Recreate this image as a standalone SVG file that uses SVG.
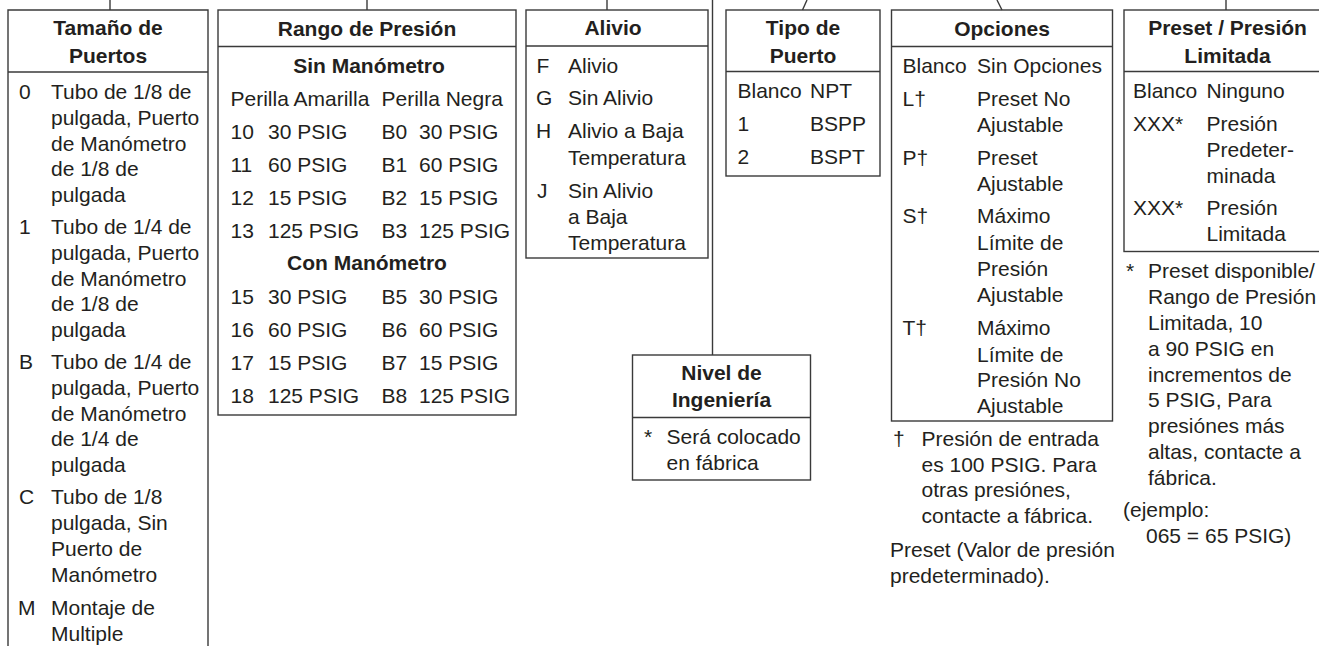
<svg xmlns="http://www.w3.org/2000/svg" width="1319" height="646" viewBox="0 0 1319 646">
<style>
text{font-family:"Liberation Sans",Arial,Helvetica,sans-serif;font-size:21px;fill:#231f20}
.h{font-weight:bold;text-anchor:middle}
.b{font-weight:bold}
.box{fill:none;stroke:#3a3a3a;stroke-width:1.4}
.ln{fill:none;stroke:#3a3a3a;stroke-width:1.4}
</style>
<rect width="1319" height="646" fill="#fff"/>
<g id="connectors">
<line class="ln" x1="110" y1="0" x2="110" y2="10"/>
<line class="ln" x1="367" y1="0" x2="367" y2="10"/>
<line class="ln" x1="607" y1="0" x2="607" y2="10"/>
<line class="ln" x1="712.5" y1="0" x2="712.5" y2="355"/>
<line class="ln" x1="807" y1="0" x2="802.5" y2="10"/>
<line class="ln" x1="997" y1="0" x2="1002" y2="10"/>
<line class="ln" x1="1226" y1="0" x2="1226" y2="10"/>
</g>
<g id="tamano">
<path class="box" d="M8,650 V10 H208 V650"/>
<line class="ln" x1="8" y1="72" x2="208" y2="72"/>
<text class="h" x="108" y="35">Tamaño de</text>
<text class="h" x="108" y="63">Puertos</text>
<text x="19" y="99">0</text>
<text x="51" y="99">Tubo de 1/8 de</text>
<text x="51" y="125">pulgada, Puerto</text>
<text x="51" y="151">de Manómetro</text>
<text x="51" y="176">de 1/8 de</text>
<text x="51" y="202">pulgada</text>
<text x="19" y="234">1</text>
<text x="51" y="234">Tubo de 1/4 de</text>
<text x="51" y="260">pulgada, Puerto</text>
<text x="51" y="286">de Manómetro</text>
<text x="51" y="311">de 1/8 de</text>
<text x="51" y="337">pulgada</text>
<text x="19" y="369">B</text>
<text x="51" y="369">Tubo de 1/4 de</text>
<text x="51" y="395">pulgada, Puerto</text>
<text x="51" y="421">de Manómetro</text>
<text x="51" y="446">de 1/4 de</text>
<text x="51" y="472">pulgada</text>
<text x="19" y="504">C</text>
<text x="51" y="504">Tubo de 1/8</text>
<text x="51" y="530">pulgada, Sin</text>
<text x="51" y="556">Puerto de</text>
<text x="51" y="582">Manómetro</text>
<text x="18" y="615">M</text>
<text x="51" y="615">Montaje de</text>
<text x="51" y="641">Multiple</text>
</g>
<g id="rango">
<rect class="box" x="218" y="10" width="298" height="405"/>
<line class="ln" x1="218" y1="46.5" x2="516" y2="46.5"/>
<text class="h" x="367" y="36">Rango de Presión</text>
<text class="h" x="369" y="73">Sin Manómetro</text>
<text x="230.5" y="106">Perilla Amarilla</text>
<text x="381.5" y="106">Perilla Negra</text>
<text x="230.5" y="139">10</text><text x="268" y="139">30 PSIG</text><text x="381.5" y="139">B0</text><text x="419" y="139">30 PSIG</text>
<text x="230.5" y="172">11</text><text x="268" y="172">60 PSIG</text><text x="381.5" y="172">B1</text><text x="419" y="172">60 PSIG</text>
<text x="230.5" y="205">12</text><text x="268" y="205">15 PSIG</text><text x="381.5" y="205">B2</text><text x="419" y="205">15 PSIG</text>
<text x="230.5" y="238">13</text><text x="268" y="238">125 PSIG</text><text x="381.5" y="238">B3</text><text x="419" y="238">125 PSIG</text>
<text class="h" x="367" y="270">Con Manómetro</text>
<text x="230.5" y="304">15</text><text x="268" y="304">30 PSIG</text><text x="381.5" y="304">B5</text><text x="419" y="304">30 PSIG</text>
<text x="230.5" y="337">16</text><text x="268" y="337">60 PSIG</text><text x="381.5" y="337">B6</text><text x="419" y="337">60 PSIG</text>
<text x="230.5" y="370">17</text><text x="268" y="370">15 PSIG</text><text x="381.5" y="370">B7</text><text x="419" y="370">15 PSIG</text>
<text x="230.5" y="403">18</text><text x="268" y="403">125 PSIG</text><text x="381.5" y="403">B8</text><text x="419" y="403">125 PSIG</text>
</g>
<g id="alivio">
<rect class="box" x="526" y="10" width="182" height="248"/>
<line class="ln" x1="526" y1="46" x2="708" y2="46"/>
<text class="h" x="613" y="35">Alivio</text>
<text x="536.5" y="73">F</text><text x="568" y="73">Alivio</text>
<text x="536" y="105">G</text><text x="568" y="105">Sin Alivio</text>
<text x="536" y="138">H</text><text x="568" y="138">Alivio a Baja</text>
<text x="568" y="165">Temperatura</text>
<text x="537" y="198">J</text><text x="568" y="198">Sin Alivio</text>
<text x="568" y="224">a Baja</text>
<text x="568" y="250">Temperatura</text>
</g>
<g id="tipo">
<rect class="box" x="726" y="10" width="154" height="166"/>
<line class="ln" x1="726" y1="71.5" x2="880" y2="71.5"/>
<text class="h" x="803" y="35">Tipo de</text>
<text class="h" x="803" y="63">Puerto</text>
<text x="737.5" y="98">Blanco</text><text x="810" y="98">NPT</text>
<text x="737.5" y="131">1</text><text x="810" y="131">BSPP</text>
<text x="737.5" y="164">2</text><text x="810" y="164">BSPT</text>
</g>
<g id="nivel">
<rect class="box" x="632.5" y="355" width="178" height="125"/>
<line class="ln" x1="632.5" y1="417.5" x2="810.5" y2="417.5"/>
<text class="h" x="721.5" y="380">Nivel de</text>
<text class="h" x="721.5" y="407">Ingeniería</text>
<text x="644" y="444">*</text><text x="666.5" y="444">Será colocado</text>
<text x="666.5" y="470">en fábrica</text>
</g>
<g id="opciones">
<rect class="box" x="891.5" y="10" width="221" height="411"/>
<line class="ln" x1="891.5" y1="46.5" x2="1112.5" y2="46.5"/>
<text class="h" x="1002" y="36">Opciones</text>
<text x="902.5" y="73">Blanco</text><text x="977" y="73">Sin Opciones</text>
<text x="902.5" y="106">L†</text><text x="977" y="106">Preset No</text>
<text x="977" y="132">Ajustable</text>
<text x="902.5" y="165">P†</text><text x="977" y="165">Preset</text>
<text x="977" y="191">Ajustable</text>
<text x="902.5" y="223">S†</text><text x="977" y="223">Máximo</text>
<text x="977" y="250">Límite de</text>
<text x="977" y="276">Presión</text>
<text x="977" y="302">Ajustable</text>
<text x="902.5" y="335">T†</text><text x="977" y="335">Máximo</text>
<text x="977" y="362">Límite de</text>
<text x="977" y="387">Presión No</text>
<text x="977" y="413">Ajustable</text>
<text x="893" y="446">†</text><text x="921.5" y="446">Presión de entrada</text>
<text x="921.5" y="472">es 100 PSIG. Para</text>
<text x="921.5" y="497">otras presiónes,</text>
<text x="921.5" y="523">contacte a fábrica.</text>
<text x="890" y="557">Preset (Valor de presión</text>
<text x="890" y="583">predeterminado).</text>
</g>
<g id="preset">
<rect class="box" x="1124" y="10" width="200" height="241.5"/>
<line class="ln" x1="1124" y1="71.5" x2="1324" y2="71.5"/>
<text class="h" x="1227.5" y="35">Preset / Presión</text>
<text class="h" x="1227.5" y="63">Limitada</text>
<text x="1133" y="98">Blanco</text><text x="1206.5" y="98">Ninguno</text>
<text x="1133" y="131">XXX*</text><text x="1206.5" y="131">Presión</text>
<text x="1206.5" y="157">Predeter-</text>
<text x="1206.5" y="183">minada</text>
<text x="1133" y="215">XXX*</text><text x="1206.5" y="215">Presión</text>
<text x="1206.5" y="241">Limitada</text>
<text x="1126" y="278">*</text><text x="1148" y="278">Preset disponible/</text>
<text x="1148" y="304">Rango de Presión</text>
<text x="1148" y="330">Limitada, 10</text>
<text x="1148" y="356">a 90 PSIG en</text>
<text x="1148" y="382">incrementos de</text>
<text x="1148" y="407">5 PSIG, Para</text>
<text x="1148" y="433">presiónes más</text>
<text x="1148" y="459">altas, contacte a</text>
<text x="1148" y="485">fábrica.</text>
<text x="1123" y="517">(ejemplo:</text>
<text x="1146" y="543">065 = 65 PSIG)</text>
</g>
</svg>
